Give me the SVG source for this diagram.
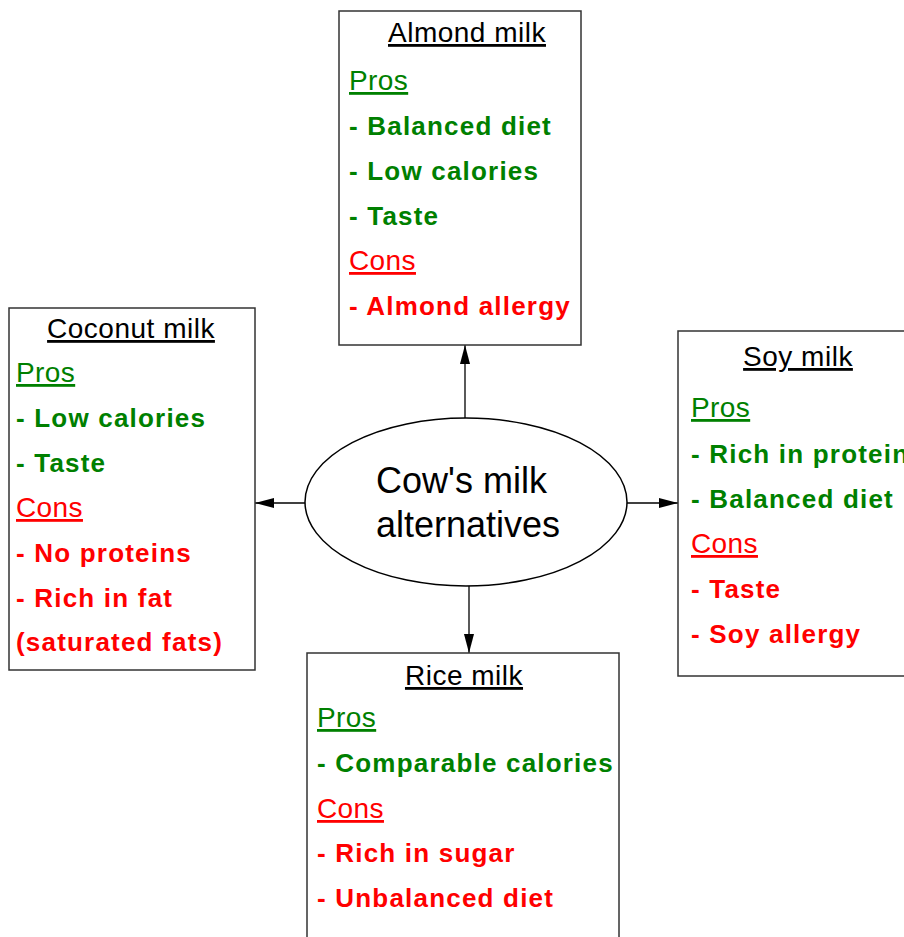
<svg xmlns="http://www.w3.org/2000/svg" width="904" height="937" viewBox="0 0 904 937">
<defs>
<style>
.box{fill:#fff;stroke:#333;stroke-width:1.5}
.ttl{font-family:"Liberation Sans",Arial,sans-serif;font-size:28px;fill:#000;text-decoration:underline;text-anchor:middle;letter-spacing:0.5px}
.hp{font-family:"Liberation Sans",Arial,sans-serif;font-size:28px;fill:#008000;text-decoration:underline;letter-spacing:0.4px}
.hc{font-family:"Liberation Sans",Arial,sans-serif;font-size:28px;fill:#ff0000;text-decoration:underline;letter-spacing:0.4px}
.p{font-family:"Liberation Sans",Arial,sans-serif;font-size:26px;font-weight:bold;fill:#008000;letter-spacing:1.2px}
.c{font-family:"Liberation Sans",Arial,sans-serif;font-size:26px;font-weight:bold;fill:#ff0000;letter-spacing:1.2px}
.ctr{font-family:"Liberation Sans",Arial,sans-serif;font-size:36px;fill:#000}
.con{stroke:#000;stroke-width:1.3;fill:none;marker-end:url(#ah)}
</style>
<marker id="ah" markerUnits="userSpaceOnUse" markerWidth="19" markerHeight="10" refX="19" refY="5" orient="auto">
<path d="M0,0 L19,5 L0,10 z" fill="#000"/>
</marker>
</defs>
<rect width="904" height="937" fill="#fff"/>

<g id="connectors">
<line class="con" x1="465" y1="418" x2="465" y2="345"/>
<line class="con" x1="469" y1="586" x2="469" y2="653"/>
<line class="con" x1="305" y1="503" x2="255" y2="503"/>
<line class="con" x1="627" y1="503" x2="678" y2="503"/>
</g>

<g id="center">
<ellipse cx="466" cy="502" rx="161" ry="84" fill="#fff" stroke="#000" stroke-width="1.5"/>
<text class="ctr" x="376" y="493">Cow's milk</text>
<text class="ctr" x="376" y="537">alternatives</text>
</g>

<g id="almond">
<rect class="box" x="339" y="11" width="242" height="334"/>
<text class="ttl" x="467" y="42">Almond milk</text>
<text class="hp" x="349" y="90">Pros</text>
<text class="p" x="349" y="135">- Balanced diet</text>
<text class="p" x="349" y="180">- Low calories</text>
<text class="p" x="349" y="225">- Taste</text>
<text class="hc" x="349" y="270">Cons</text>
<text class="c" x="349" y="315">- Almond allergy</text>
</g>

<g id="coconut">
<rect class="box" x="9" y="308" width="246" height="362"/>
<text class="ttl" x="131" y="338">Coconut milk</text>
<text class="hp" x="16" y="382">Pros</text>
<text class="p" x="16" y="427">- Low calories</text>
<text class="p" x="16" y="472">- Taste</text>
<text class="hc" x="16" y="517">Cons</text>
<text class="c" x="16" y="562">- No proteins</text>
<text class="c" x="16" y="607">- Rich in fat</text>
<text class="c" x="16" y="651">(saturated fats)</text>
</g>

<g id="soy">
<rect class="box" x="678" y="331" width="240" height="345"/>
<text class="ttl" x="798" y="366">Soy milk</text>
<text class="hp" x="691" y="417">Pros</text>
<text class="p" x="691" y="463">- Rich in proteins</text>
<text class="p" x="691" y="508">- Balanced diet</text>
<text class="hc" x="691" y="553">Cons</text>
<text class="c" x="691" y="598">- Taste</text>
<text class="c" x="691" y="643">- Soy allergy</text>
</g>

<g id="rice">
<rect class="box" x="307" y="653" width="312" height="300"/>
<text class="ttl" x="464" y="685">Rice milk</text>
<text class="hp" x="317" y="727">Pros</text>
<text class="p" x="317" y="772">- Comparable calories</text>
<text class="hc" x="317" y="818">Cons</text>
<text class="c" x="317" y="862">- Rich in sugar</text>
<text class="c" x="317" y="907">- Unbalanced diet</text>
</g>
</svg>
